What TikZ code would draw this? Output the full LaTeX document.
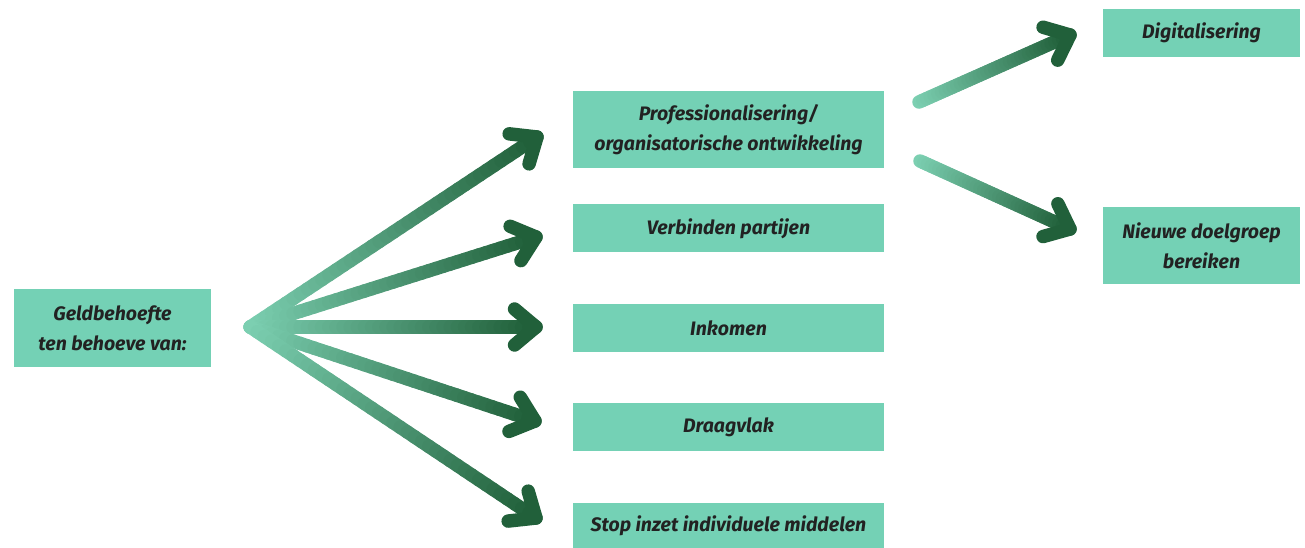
\documentclass[tikz,border=0pt]{standalone}
\usepackage{fontspec}
\setmainfont{Fira Sans}
\usetikzlibrary{calc, positioning}
\definecolor{boxgreen}{HTML}{74D1B5}
\definecolor{lightgreen}{HTML}{7ED2B4}
\definecolor{darkgreen}{HTML}{21603A}
\definecolor{inkgrey}{HTML}{222222}
\tikzstyle{topic} = [rectangle, fill=boxgreen, text=inkgrey, inner sep=0pt, align=center,
                     font=\fontsize{19.5}{30}\selectfont\bfseries\itshape]
\tikzstyle{wide} = [topic, minimum width=311pt, minimum height=48pt]
\tikzstyle{narrow} = [topic, minimum width=197pt, minimum height=48pt]
\tikzstyle{shaft} = [line width=13.5pt, line cap=round]
\tikzstyle{barb} = [line width=13.5pt, line cap=round, line join=round, draw=darkgreen]
% shaft fading from light to dark, then a chevron at the tip
\newcommand{\gradarrow}[2]{%
  \foreach \s in {1,...,40}{
    \pgfmathsetmacro\pa{(\s-1)/40}
    \pgfmathsetmacro\pb{\s/40}
    \pgfmathsetmacro\mix{100-2.5*\s}
    \draw[shaft, draw=lightgreen!\mix!darkgreen] ($(#1)!\pa!(#2)$) -- ($(#1)!\pb!(#2)$);
  }
  \draw[barb] ($(#2)!28pt!40:(#1)$) -- (#2) -- ($(#2)!28pt!-40:(#1)$);
}

\begin{document}
\begin{tikzpicture}[x=1pt, y=-1pt]
  \useasboundingbox (0,0) rectangle (1305,547);

  \node[narrow, minimum height=78pt] (geld) at (112.5,328) {Geldbehoefte\\ten behoeve van:};

  \node[wide, minimum height=77pt] (prof) at (728.5,129.5) {Professionalisering/\\organisatorische ontwikkeling};
  \node[wide, below=36pt of prof] (verb) {Verbinden partijen};
  \node[wide, below=51pt of verb] (inko) {Inkomen};
  \node[wide, below=51pt of inko] (draa) {Draagvlak};
  \node[wide, below=51pt of draa, minimum height=47pt] (stop) {Stop inzet individuele middelen};

  \node[narrow] (digi) at (1201.5,33) {Digitalisering};
  \node[narrow, minimum height=77pt] (nieuw) at (1201.5,245.5) {Nieuwe doelgroep\\bereiken};

  % arrow ends
  \coordinate (hub) at ($(geld.east)+(39,-1)$);
  \coordinate (t1) at (537,137);
  \coordinate (t2) at (536,237);
  \coordinate (t3) at (536,327);
  \coordinate (t4) at (535,421);
  \coordinate (t5) at (536,518);
  \coordinate (s6) at (919,102);
  \coordinate (t6) at (1070,35);
  \coordinate (s7) at (920,161);
  \coordinate (t7) at (1070,229);

  \foreach \t in {t1,t2,t3,t4,t5}{
    \gradarrow{hub}{\t}
  }
  \gradarrow{s6}{t6}
  \gradarrow{s7}{t7}

\end{tikzpicture}
\end{document}
